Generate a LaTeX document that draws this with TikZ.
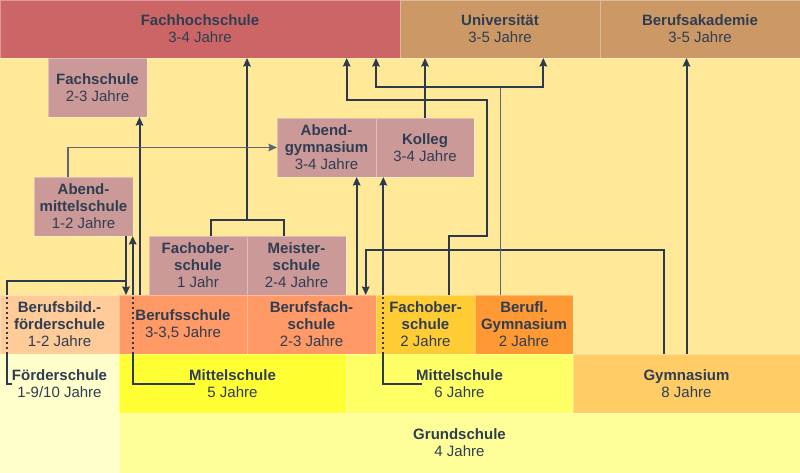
\documentclass[tikz,border=0pt]{standalone}
\usepackage{fontspec}
\setmainfont{Liberation Sans}
\usetikzlibrary{arrows.meta,calc}
\definecolor{bg}{HTML}{FFE897}
\definecolor{cfh}{HTML}{CC6666}
\definecolor{cuni}{HTML}{CC9966}
\definecolor{cmid}{HTML}{CC9999}
\definecolor{cbbf}{HTML}{FFCC99}
\definecolor{cbs}{HTML}{FF9966}
\definecolor{cfos}{HTML}{FFCC33}
\definecolor{cbgy}{HTML}{FF9933}
\definecolor{cfds}{HTML}{FFFFCC}
\definecolor{cmi5}{HTML}{FFFF33}
\definecolor{cmi6}{HTML}{FFFF66}
\definecolor{cgym}{HTML}{FFCC66}
\definecolor{cgs}{HTML}{FFFF99}
\definecolor{txt}{HTML}{2F3D52}
\definecolor{ln}{HTML}{2B3A4F}
\definecolor{lngray}{HTML}{5D6675}
\tikzset{
  box/.style={anchor=north west, inner sep=0pt, outer sep=0pt, draw=white, draw opacity=0.35,
    line width=0.8pt, align=center, font=\fontsize{15}{17}\selectfont, text=txt},
  conn/.style={draw=ln, line width=2pt},
  connthin/.style={draw=lngray, line width=1.4pt},
  arr/.style={conn, -{Stealth[length=8.5pt,width=7.5pt,inset=1pt]}},
  arrthin/.style={connthin, -{Stealth[length=8.5pt,width=7.5pt,inset=1pt]}},
  dots/.style={conn, dash pattern=on 2.5pt off 2.5pt},
}
\begin{document}
\begin{tikzpicture}[x=1pt,y=-1pt]
\fill[bg] (0,0) rectangle (800,473);
\useasboundingbox (0,0) rectangle (800,473);
% top row
\node[box, fill=cfh, minimum width=400pt, minimum height=58pt] (fh) at (0,0) {\textbf{Fachhochschule}\\3-4 Jahre};
\node[box, fill=cuni, minimum width=200pt, minimum height=58pt] (uni) at (400,0) {\textbf{Universität}\\3-5 Jahre};
\node[box, fill=cuni, minimum width=200pt, minimum height=58pt] (ba) at (600,0) {\textbf{Berufsakademie}\\3-5 Jahre};
% middle boxes
\node[box, fill=cmid, minimum width=99pt, minimum height=59pt] (fs) at (48,58) {\textbf{Fachschule}\\2-3 Jahre};
\node[box, fill=cmid, minimum width=99pt, minimum height=59pt] (ams) at (34,177) {\textbf{Abend-}\\\textbf{mittelschule}\\1-2 Jahre};
\node[box, fill=cmid, minimum width=99pt, minimum height=59pt] (agy) at (277,118) {\textbf{Abend-}\\\textbf{gymnasium}\\3-4 Jahre};
\node[box, fill=cmid, minimum width=98pt, minimum height=59pt] (kol) at (376,118) {\textbf{Kolleg}\\3-4 Jahre};
\node[box, fill=cmid, minimum width=98pt, minimum height=59pt] (fos1) at (149,236) {\textbf{Fachober-}\\\textbf{schule}\\1 Jahr};
\node[box, fill=cmid, minimum width=99pt, minimum height=59pt] (ms) at (247,236) {\textbf{Meister-}\\\textbf{schule}\\2-4 Jahre};
% row 295
\node[box, fill=cbbf, minimum width=119pt, minimum height=59pt] (bbf) at (0,295) {\textbf{Berufsbild.-}\\\textbf{förderschule}\\1-2 Jahre};
\node[box, fill=cbs, minimum width=128pt, minimum height=59pt] (bs) at (119,295) {\textbf{Berufsschule}\\3-3,5 Jahre};
\node[box, fill=cbs, minimum width=129pt, minimum height=59pt] (bfs) at (247,295) {\textbf{Berufsfach-}\\\textbf{schule}\\2-3 Jahre};
\node[box, fill=cfos, minimum width=99pt, minimum height=59pt] (fos2) at (376,295) {\textbf{Fachober-}\\\textbf{schule}\\2 Jahre};
\node[box, fill=cbgy, minimum width=98pt, minimum height=59pt] (bgy) at (475,295) {\textbf{Berufl.}\\\textbf{Gymnasium}\\2 Jahre};
% row 354
\fill[cfds] (0,354) rectangle (119,473);
\node[box, fill=cfds, draw=none, minimum width=119pt, minimum height=59pt] (fds) at (0,354) {\textbf{Förderschule}\\1-9/10 Jahre};
\node[box, fill=cmi5, minimum width=227pt, minimum height=59pt] (mi5) at (119,354) {\textbf{Mittelschule}\\5 Jahre};
\node[box, fill=cmi6, minimum width=227pt, minimum height=59pt] (mi6) at (346,354) {\textbf{Mittelschule}\\6 Jahre};
\node[box, fill=cgym, minimum width=227pt, minimum height=59pt] (gym) at (573,354) {\textbf{Gymnasium}\\8 Jahre};
\node[box, fill=cgs, minimum width=681pt, minimum height=60pt] (gs) at (119,413) {\textbf{Grundschule}\\4 Jahre};

% coordinates
\coordinate (p1) at ($(bs.north west)+(20.5,0)$);
\coordinate (t1) at ($(fos1.north west)+(62,0)$);
\coordinate (t2) at ($(ms.north west)+(37,0)$);
\coordinate (t0) at ($(fos1.north east)+(0,-16)$);
\coordinate (a1) at ($(ams.north west)+(34,0)$);
\coordinate (f0) at ($(fds.west)+(12,0)$);
\coordinate (f1) at ($(fds.west)+(7.3,0)$);
\coordinate (q) at ($(bs.north west)+(7,-14.3)$);
\coordinate (m0) at ($(mi5.west)+(76,0)$);
\coordinate (m1) at ($(mi5.west)+(13.7,0)$);
\coordinate (b1) at ($(bfs.north west)+(109.7,0)$);
\coordinate (k0) at ($(mi6.west)+(75.7,0)$);
\coordinate (k1) at ($(mi6.west)+(37.3,0)$);
\coordinate (g1) at ($(gym.north west)+(91.3,0)$);
\coordinate (g2) at ($(bfs.north west)+(118.7,-45)$);
\coordinate (h1) at ($(fos2.north west)+(73.3,0)$);
\coordinate (h2) at ($(fos2.north west)+(111.3,-59)$);
\coordinate (h3) at ($(fh.south west)+(346.7,42)$);
\coordinate (r1) at ($(bgy.north west)+(25.7,0)$);
\coordinate (r2) at ($(fh.south west)+(376,29)$);
\coordinate (r3) at ($(uni.south west)+(143.3,29)$);

% connectors
\draw[arr] (p1) -- (p1 |- fs.south);
\draw[conn] (t1) -- (t1 |- t0) -- (t2 |- t0) -- (t2);
\draw[arr] (t0) -- (t0 |- fh.south);
\draw[arrthin] (a1) |- (agy.west);
% Foerderschule -> Berufsschule
\draw[conn] (f0) -- (f1) -- (f1 |- bbf.south);
\draw[dots] (f1 |- bbf.south) -- (f1 |- bbf.north);
\draw[arr] (f1 |- bbf.north) |- (q) -- (q |- bs.north);
\draw[conn] (q |- ams.south) -- (q);
% Mittelschule 5 -> Abendmittelschule
\draw[conn] (m0) -- (m1) -- (m1 |- bs.south);
\draw[dots] (m1 |- bs.south) -- (m1 |- bs.north);
\draw[arr] (m1 |- bs.north) -- (m1 |- ams.south);
% Berufsfachschule -> Abendgymnasium
\draw[arr] (b1) -- (b1 |- agy.south);
% Mittelschule 6 -> Kolleg
\draw[conn] (k0) -- (k1) -- (k1 |- fos2.south);
\draw[dots] (k1 |- fos2.south) -- (k1 |- fos2.north);
\draw[arr] (k1 |- fos2.north) -- (k1 |- kol.south);
% Gymnasium -> Berufsfachschule
\draw[arr] (g1) |- (g2) -- (g2 |- bfs.north);
% Fachoberschule 2 -> Fachhochschule
\draw[arr] (h1) |- (h2) |- (h3) -- (h3 |- fh.south);
% Kolleg -> Universitaet
\draw[arr] (kol.north) -- (kol.north |- uni.south);
% Berufl. Gymnasium -> FH and Uni
\draw[connthin] (r1) -- (r1 |- r2);
\draw[arr] (r1 |- r2) -| (r2 |- fh.south);
\draw[arr] (r1 |- r2) -| (r3 |- uni.south);
% Gymnasium -> Berufsakademie
\draw[arr] (gym.north) -- (gym.north |- ba.south);
\end{tikzpicture}
\end{document}
